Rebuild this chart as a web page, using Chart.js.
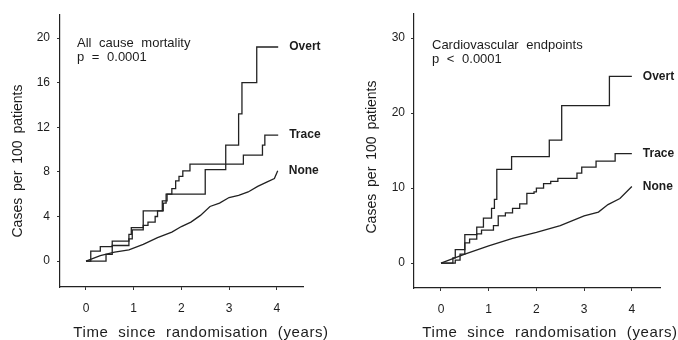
<!DOCTYPE html>
<html>
<head>
<meta charset="utf-8">
<script src="https://cdn.jsdelivr.net/npm/chart.js@4.4.1/dist/chart.umd.min.js"></script>
<style>
  html, body { margin: 0; padding: 0; background: #fff; }
  #wrap { position: relative; width: 678px; height: 340px; }
  .panel { position: absolute; top: 0; height: 340px; }
</style>
</head>
<body>
<div id="wrap">
  <div class="panel" style="left:0;width:340px"><canvas id="mortChart" width="340" height="340"></canvas></div>
  <div class="panel" style="left:340px;width:338px"><canvas id="cvChart" width="338" height="340"></canvas></div>
</div>
<script>
// ── data: all cause mortality (left) ──
const mortOvertT = [0, 0.42, 0.55, 0.9, 0.97, 1.2, 1.3, 1.45, 1.5, 1.6, 1.7, 2.5, 2.93, 3.2, 3.27, 3.58, 4.03];
const mortOvertV = [0, 0.6, 1.4, 2.0, 2.8, 3.2, 3.5, 4.0, 4.5, 5.4, 6.0, 8.2, 10.4, 13.2, 16.0, 19.2, 19.2];
const mortTraceT = [0, 0.1, 0.3, 0.55, 0.9, 0.95, 1.2, 1.62, 1.68, 1.8, 1.88, 1.95, 2.03, 2.18, 3.3, 3.7, 3.75, 4.03];
const mortTraceV = [0, 0.9, 1.3, 1.8, 2.4, 3.0, 4.5, 5.2, 6.0, 6.5, 7.2, 7.6, 8.1, 8.7, 9.5, 10.4, 11.3, 11.3];
const mortNoneT  = [0, 0.3, 0.6, 0.9, 1.2, 1.5, 1.8, 2.0, 2.2, 2.4, 2.6, 2.8, 3.0, 3.2, 3.4, 3.6, 3.8, 3.95, 4.02];
const mortNoneV  = [0, 0.5, 0.8, 1.0, 1.5, 2.1, 2.6, 3.1, 3.5, 4.1, 4.9, 5.2, 5.7, 5.9, 6.2, 6.7, 7.1, 7.4, 8.1];

// ── data: cardiovascular endpoints (right) ──
const cvOvertT = [0, 0.25, 0.3, 0.5, 0.75, 0.89, 1.06, 1.12, 1.17, 1.48, 2.27, 2.53, 3.53, 4.0];
const cvOvertV = [0, 0.7, 1.8, 3.8, 4.8, 6.0, 7.3, 8.5, 12.5, 14.2, 16.4, 21.0, 24.9, 24.9];
const cvTraceT = [0, 0.3, 0.4, 0.5, 0.6, 0.75, 0.85, 1.1, 1.2, 1.35, 1.5, 1.65, 1.8, 1.95, 2.0, 2.15, 2.3, 2.45, 2.85, 2.95, 3.25, 3.65, 4.0];
const cvTraceV = [0, 0.4, 1.2, 2.7, 3.2, 3.9, 4.4, 5.0, 6.3, 6.7, 7.3, 7.9, 9.3, 9.5, 10.0, 10.6, 10.9, 11.3, 12.0, 12.8, 13.6, 14.6, 14.6];
const cvNoneT  = [0, 0.5, 1.0, 1.5, 2.0, 2.5, 3.0, 3.3, 3.5, 3.75, 4.0];
const cvNoneV  = [0, 1.2, 2.3, 3.3, 4.1, 5.0, 6.3, 6.8, 7.8, 8.6, 10.2];

// ── ticks ──
const xTicks = [0, 1, 2, 3, 4];
const mortYTicks = [0, 4, 8, 12, 16, 20];
const cvYTicks = [0, 10, 20, 30];
const seriesNames = ['Overt', 'Trace', 'None'];

const INK = '#1c1c1c';
const FONT = '"Liberation Sans", Arial, Helvetica, sans-serif';

const pts = (t, v) => t.map((x, i) => ({ x, y: v[i] }));

const textPlugin = {
  id: 'panelText',
  afterDraw(chart, args, o) {
    const { ctx, chartArea, scales: { x, y } } = chart;
    ctx.save();
    ctx.fillStyle = INK;
    ctx.textBaseline = 'middle';
    if ('wordSpacing' in ctx) ctx.wordSpacing = '4px';

    // heading inside plot
    ctx.textAlign = 'left';
    ctx.font = '13px ' + FONT;
    o.heading.forEach((t, i) => ctx.fillText(t, chartArea.left + o.headX, o.headY + i * 14));

    // labels at curve ends
    if ('wordSpacing' in ctx) ctx.wordSpacing = '0px';
    ctx.font = 'bold 12px ' + FONT;
    chart.data.datasets.forEach(ds => {
      const last = ds.data[ds.data.length - 1];
      ctx.fillText(ds.label, x.getPixelForValue(last.x) + 11, y.getPixelForValue(last.y));
    });

    // axis titles
    ctx.textAlign = 'center';
    ctx.font = '15px ' + FONT;
    if ('wordSpacing' in ctx) ctx.wordSpacing = '5px';
    if ('letterSpacing' in ctx) ctx.letterSpacing = '0.6px';
    ctx.fillText('Time since randomisation (years)', o.xTitle[0], o.xTitle[1]);
    ctx.font = '14px ' + FONT;
    if ('wordSpacing' in ctx) ctx.wordSpacing = '3px';
    if ('letterSpacing' in ctx) ctx.letterSpacing = '0px';
    ctx.translate(o.yTitle[0], o.yTitle[1]);
    ctx.rotate(-Math.PI / 2);
    ctx.fillText('Cases per 100 patients', 0, 0);
    ctx.restore();
  }
};

function makePanel(id, series, yTicks, cfg) {
  return new Chart(document.getElementById(id), {
    type: 'line',
    data: {
      datasets: series.map((s, i) => ({
        label: seriesNames[i],
        data: s.data,
        stepped: s.stepped,
        borderColor: '#222',
        borderWidth: 1.3,
        pointRadius: 0,
        fill: false,
        tension: 0
      }))
    },
    options: {
      responsive: false,
      animation: false,
      layout: { padding: { top: 13, right: cfg.padRight, left: 0, bottom: 0 } },
      plugins: {
        legend: { display: false },
        tooltip: { enabled: false },
        panelText: cfg.text
      },
      scales: {
        x: {
          type: 'linear',
          min: cfg.xMin, max: cfg.xMax,
          afterBuildTicks: s => { s.ticks = xTicks.map(v => ({ value: v })); },
          afterFit: s => { s.height = cfg.bottomH; },
          ticks: { color: INK, font: { family: FONT, size: 12 }, padding: 11, maxRotation: 0 },
          grid: { drawOnChartArea: false, tickLength: 3, color: '#333' },
          border: { color: '#222', width: 1.2 }
        },
        y: {
          min: cfg.yMin, max: cfg.yMax,
          afterBuildTicks: s => { s.ticks = yTicks.map(v => ({ value: v })); },
          afterFit: s => { s.width = cfg.leftW; },
          ticks: { color: INK, font: { family: FONT, size: 12 }, padding: cfg.yPad },
          grid: { drawOnChartArea: false, tickLength: 3, color: '#333' },
          border: { color: '#222', width: 1.2 }
        }
      }
    },
    plugins: [textPlugin]
  });
}

makePanel('mortChart', [
  { data: pts(mortOvertT, mortOvertV), stepped: true },
  { data: pts(mortTraceT, mortTraceV), stepped: true },
  { data: pts(mortNoneT, mortNoneV), stepped: false }
], mortYTicks, {
  xMin: -0.545, xMax: 4.55, yMin: -2.32, yMax: 22.14,
  padRight: 37, bottomH: 53, leftW: 60, yPad: 7,
  text: { heading: ['All cause mortality', 'p = 0.0001'], headX: 17, headY: 43, xTitle: [201, 333], yTitle: [18, 161] }
});

makePanel('cvChart', [
  { data: pts(cvOvertT, cvOvertV), stepped: true },
  { data: pts(cvTraceT, cvTraceV), stepped: true },
  { data: pts(cvNoneT, cvNoneV), stepped: false }
], cvYTicks, {
  xMin: -0.565, xMax: 4.59, yMin: -3.33, yMax: 33.33,
  padRight: 18, bottomH: 52, leftW: 74, yPad: 6,
  text: { heading: ['Cardiovascular endpoints', 'p < 0.0001'], headX: 18, headY: 45, xTitle: [210, 333], yTitle: [32, 157] }
});
</script>
</body>
</html>
